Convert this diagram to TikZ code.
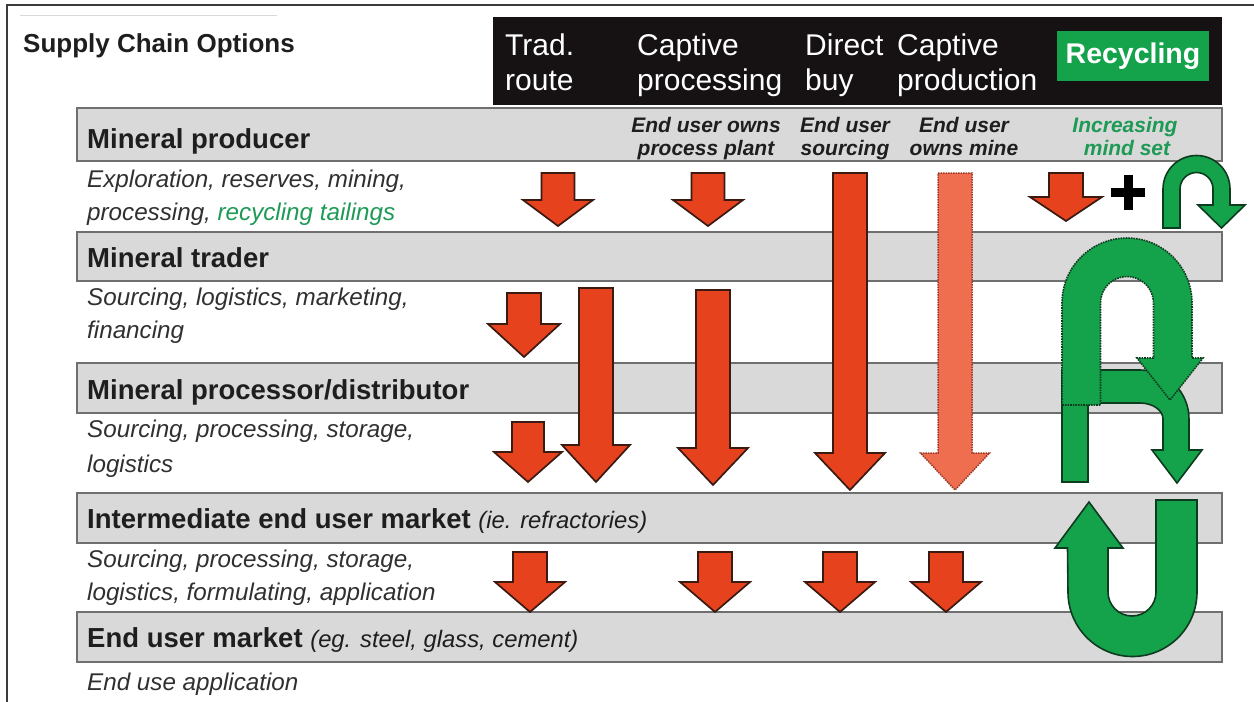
\documentclass[tikz,border=0pt]{standalone}
\usepackage{fontspec}
\setmainfont{Liberation Sans}

\definecolor{barfill}{HTML}{D9D9D9}
\definecolor{barline}{HTML}{6F6F6F}
\definecolor{headblack}{HTML}{161213}
\definecolor{recgreen}{HTML}{14A24B}
\definecolor{greenedge}{HTML}{0D3B1F}
\definecolor{arrowred}{HTML}{E6421E}
\definecolor{arrowedge}{HTML}{3B1A12}
\definecolor{arrowpale}{HTML}{EF6E50}
\definecolor{paleedge}{HTML}{9A3A26}
\definecolor{inkgray}{HTML}{1E1E1E}
\definecolor{descgray}{HTML}{303030}
\definecolor{textgreen}{HTML}{1E9A56}
\definecolor{framegray}{HTML}{3C3C3C}

% block arrow pointing down: style, centre x, top, neck, tip, shaft half width, head half width
\newcommand{\blockdown}[7]{%
  \path[#1] ({#2-#6},#3) -- ({#2+#6},#3) -- ({#2+#6},#4) -- ({#2+#7},#4)
    -- (#2,#5) -- ({#2-#7},#4) -- ({#2-#6},#4) -- cycle;}

\begin{document}
\begin{tikzpicture}[x=1pt,y=-1pt,
  bar/.style={fill=barfill, draw=barline, line width=1.6pt},
  redarrow/.style={fill=arrowred, draw=arrowedge, line width=1.7pt, line join=miter},
  palearrow/.style={fill=arrowpale, draw=paleedge, line width=1.5pt, densely dotted},
  greenarrow/.style={fill=recgreen, draw=greenedge, line width=1.6pt},
  greendotted/.style={fill=recgreen, draw=greenedge, line width=1.6pt, densely dotted},
  lbl/.style={anchor=base west, inner sep=0pt},
  mid/.style={anchor=base, inner sep=0pt},
  headfont/.style={font=\fontsize{30}{35}\selectfont, text=white},
  barfont/.style={font=\fontsize{27.5}{32}\selectfont\bfseries, text=inkgray},
  descfont/.style={font=\fontsize{24.2}{29}\selectfont\itshape, text=descgray},
  notefont/.style={font=\fontsize{21}{24}\selectfont\bfseries\itshape, text=inkgray},
]
\useasboundingbox (0,0) rectangle (1254,702);

% frame and title
\draw[framegray, line width=1.8pt] (7,702) -- (7,5) -- (1254,5);
\draw[black!15, line width=1pt] (20,15) -- (277,15);
\node[lbl, font=\fontsize{26}{30}\selectfont\bfseries, text=inkgray] (title) at (23,52) {Supply Chain Options};

% column header band
\fill[headblack] (493,17) rectangle (1222,105);
\fill[recgreen] (1057,31) rectangle (1209,81);
\node[lbl, headfont] (h1a) at (505,55) {Trad.};
\node[lbl, headfont] (h1b) at (505,90) {route};
\node[lbl, headfont] (h2a) at (637,55) {Captive};
\node[lbl, headfont] (h2b) at (637,90) {processing};
\node[lbl, headfont] (h3a) at (805,55) {Direct};
\node[lbl, headfont] (h3b) at (805,90) {buy};
\node[lbl, headfont] (h4a) at (897,55) {Captive};
\node[lbl, headfont] (h4b) at (897,90) {production};
\node[inner sep=0pt, font=\fontsize{28.5}{32}\selectfont\bfseries, text=white] (h5) at (1133,56) {Recycling};

% stage bars
\draw[bar] (77,108) rectangle (1222,161);
\draw[bar] (77,232) rectangle (1222,281);
\draw[bar] (77,363) rectangle (1222,413);
\draw[bar] (77,493) rectangle (1222,543);
\draw[bar] (77,612) rectangle (1222,662);

\node[lbl, barfont] (s1) at (87,148) {Mineral producer};
\node[lbl, barfont] (s2) at (87,267) {Mineral trader};
\node[lbl, barfont] (s3) at (87,399) {Mineral processor/distributor};
\node[lbl, barfont] (s4) at (87,528) {Intermediate end user market {\mdseries\itshape\fontsize{23.8}{29}\selectfont (ie. refractories)}};
\node[lbl, barfont] (s5) at (87,647) {End user market {\mdseries\itshape\fontsize{23.8}{29}\selectfont (eg. steel, glass, cement)}};

% stage activities
\node[lbl, descfont] (d1a) at (87,187) {Exploration, reserves, mining,};
\node[lbl, descfont] (d1b) at (87,220) {processing, \textcolor{textgreen}{recycling tailings}};
\node[lbl, descfont] (d2a) at (87,305) {Sourcing, logistics, marketing,};
\node[lbl, descfont] (d2b) at (87,338) {financing};
\node[lbl, descfont] (d3a) at (87,437) {Sourcing, processing, storage,};
\node[lbl, descfont] (d3b) at (87,472) {logistics};
\node[lbl, descfont] (d4a) at (87,567) {Sourcing, processing, storage,};
\node[lbl, descfont] (d4b) at (87,600) {logistics, formulating, application};
\node[lbl, descfont] (d5a) at (87,690) {End use application};

% option notes inside the producer bar
\node[mid, notefont] (n2a) at (706,132) {End user owns};
\node[mid, notefont] (n2b) at (706,155) {process plant};
\node[mid, notefont] (n3a) at (845,132) {End user};
\node[mid, notefont] (n3b) at (845,155) {sourcing};
\node[mid, notefont] (n4a) at (964,132) {End user};
\node[mid, notefont] (n4b) at (964,155) {owns mine};
\node[mid, notefont, text=textgreen] (n5a) at (1125,132) {Increasing};
\node[mid, notefont, text=textgreen] (n5b) at (1127,155) {mind set};

% red flow arrows
\blockdown{redarrow}{558}{173}{200}{226}{16.5}{35}
\blockdown{redarrow}{708}{173}{200}{226}{16.5}{35}
\blockdown{redarrow}{850}{173}{453}{490}{17}{35}
\blockdown{palearrow}{955}{173}{453}{490}{17}{34.5}
\blockdown{redarrow}{1066}{173}{197}{221}{17}{36}

\blockdown{redarrow}{524}{293}{324}{357}{17}{36}
\blockdown{redarrow}{596}{288}{445}{482}{17}{34}
\blockdown{redarrow}{713}{290}{448}{485}{17}{35}

\blockdown{redarrow}{528}{422}{452}{482}{16}{34}

\blockdown{redarrow}{530}{552}{582}{612}{17}{35}
\blockdown{redarrow}{715}{552}{582}{612}{17}{35}
\blockdown{redarrow}{840}{552}{582}{612}{17}{35}
\blockdown{redarrow}{946}{552}{582}{612}{17}{35}

% plus sign
\draw[black, line width=9pt] (1111,192.5) -- (1145,192.5) (1128,175) -- (1128,210);

% recycling loops
\path[greenarrow] (1163,228) -- (1163,189) arc[start angle=180, end angle=360, radius=33.5]
  -- (1230,205) -- (1245,205) -- (1221.5,228) -- (1198,205) -- (1213,205)
  -- (1213,189) arc[start angle=360, end angle=180, radius=16.5] -- (1180,228) -- cycle;

\path[greenarrow] (1062,482) -- (1062,370) -- (1140,370)
  arc[start angle=270, end angle=360, x radius=49, y radius=49]
  -- (1189,450) -- (1202,450) -- (1177,483) -- (1152,450) -- (1163,450) -- (1163,419)
  arc[start angle=360, end angle=270, x radius=23, y radius=16]
  -- (1088,403) -- (1088,482) -- cycle;

\path[greendotted] (1062,405) -- (1062,303) arc[start angle=180, end angle=360, radius=65]
  -- (1192,358) -- (1203,358) -- (1170,400) -- (1137,358) -- (1153.5,358)
  -- (1153.5,303) arc[start angle=360, end angle=180, radius=26.5] -- (1100.5,405) -- cycle;

\path[greenarrow] (1197,500) -- (1197,592) arc[start angle=0, end angle=180, radius=64.5]
  -- (1067.5,548) -- (1055,548) -- (1089,502) -- (1123,548) -- (1108,548)
  -- (1108,592) arc[start angle=180, end angle=0, radius=24] -- (1156,500) -- cycle;
\end{tikzpicture}
\end{document}
